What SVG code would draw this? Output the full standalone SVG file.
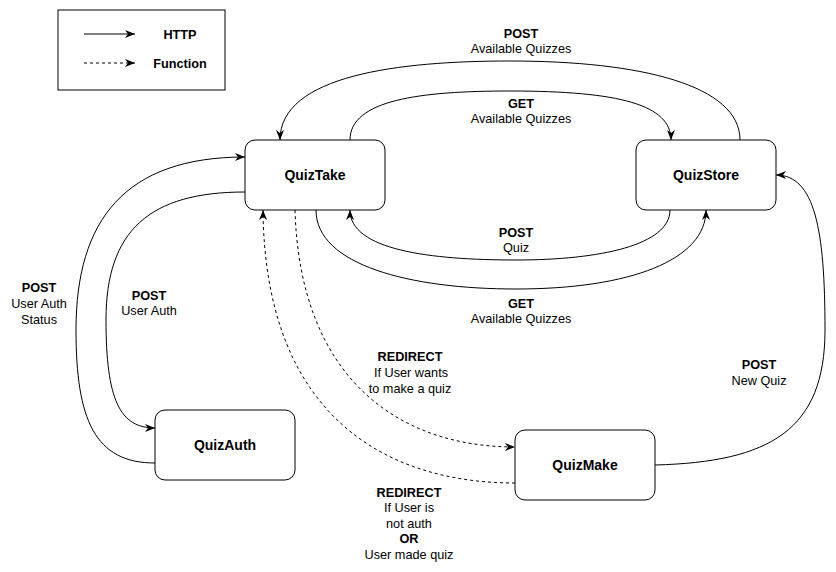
<svg xmlns="http://www.w3.org/2000/svg" width="836" height="572" viewBox="0 0 836 572">
<style>
text{font-family:"Liberation Sans",Arial,Helvetica,sans-serif;fill:#000;text-anchor:middle}
.node rect{fill:#fff;stroke:#000;stroke-width:1}
.node text{font-size:14px;font-weight:bold}
.lbl{font-size:12.7px}
.b{font-weight:bold}
.edge{fill:none;stroke:#000;stroke-width:1}
.dash{stroke-dasharray:3,3}
</style>
<defs>
<marker id="arr" viewBox="0 0 10 10" refX="10" refY="5" markerWidth="10" markerHeight="10" markerUnits="userSpaceOnUse" orient="auto">
<path d="M0,1 L10,5 L0,9 L3,5 Z" fill="#000"/>
</marker>
</defs>
<rect width="836" height="572" fill="#fff"/>
<g id="legend">
<rect x="58" y="10" width="167" height="80" fill="#fff" stroke="#000"/>
<path class="edge" d="M84,34 L135,34" marker-end="url(#arr)"/>
<path class="edge dash" d="M84,63 L135,63" marker-end="url(#arr)"/>
<text class="lbl b" x="180" y="38.5">HTTP</text>
<text class="lbl b" x="180" y="67.5">Function</text>
</g>
<g id="connectors">
<path class="edge" d="M740,140 C740,85 640,61 510,61 C400,61 280,75 280,140" marker-end="url(#arr)"/>
<path class="edge" d="M350,140 C350,100 420,91 510,91 C620,91 671,105 671,140" marker-end="url(#arr)"/>
<path class="edge" d="M670,210 C670,245 600,260 516,260 C430,260 350,250 350,210" marker-end="url(#arr)"/>
<path class="edge" d="M316,210 C316,265 410,289 516,289 C630,289 706,260 706,210" marker-end="url(#arr)"/>
<path class="edge" d="M155,463 C95,463 76,420 76,330 C76,220 125,157 245,157" marker-end="url(#arr)"/>
<path class="edge" d="M245,192 C150,192 106,230 106,320 C106,400 120,428 155,428" marker-end="url(#arr)"/>
<path class="edge dash" d="M295,210 C300,380 400,447 515,447" marker-end="url(#arr)"/>
<path class="edge dash" d="M515,483 C390,483 265,420 263,210" marker-end="url(#arr)"/>
<path class="edge" d="M655,465 C770,462 825,430 825,330 C825,230 815,175 776,175" marker-end="url(#arr)"/>
<g class="lbl">
<text class="b" x="521" y="38">POST</text>
<text x="521" y="53">Available Quizzes</text>
<text class="b" x="521" y="108">GET</text>
<text x="521" y="123">Available Quizzes</text>
<text class="b" x="516" y="237">POST</text>
<text x="516" y="252">Quiz</text>
<text class="b" x="521" y="308">GET</text>
<text x="521" y="323">Available Quizzes</text>
<text class="b" x="39" y="292">POST</text>
<text x="39" y="308">User Auth</text>
<text x="39" y="324">Status</text>
<text class="b" x="149" y="300">POST</text>
<text x="149" y="315">User Auth</text>
<text class="b" x="410" y="361">REDIRECT</text>
<text x="411" y="377">If User wants</text>
<text x="410" y="393">to make a quiz</text>
<text class="b" x="409" y="497">REDIRECT</text>
<text x="409" y="512">If User is</text>
<text x="409" y="528">not auth</text>
<text class="b" x="409" y="543">OR</text>
<text x="409" y="559">User made quiz</text>
<text class="b" x="759" y="369">POST</text>
<text x="759" y="385">New Quiz</text>
</g>
</g>
<g id="QuizTake" class="node">
<rect x="245" y="140" width="140" height="70" rx="10"/>
<text x="315" y="180">QuizTake</text>
</g>
<g id="QuizStore" class="node">
<rect x="636" y="140" width="140" height="70" rx="10"/>
<text x="706" y="180">QuizStore</text>
</g>
<g id="QuizAuth" class="node">
<rect x="155" y="410" width="140" height="70" rx="10"/>
<text x="225" y="450">QuizAuth</text>
</g>
<g id="QuizMake" class="node">
<rect x="515" y="430" width="140" height="70" rx="10"/>
<text x="585" y="470">QuizMake</text>
</g>
</svg>
